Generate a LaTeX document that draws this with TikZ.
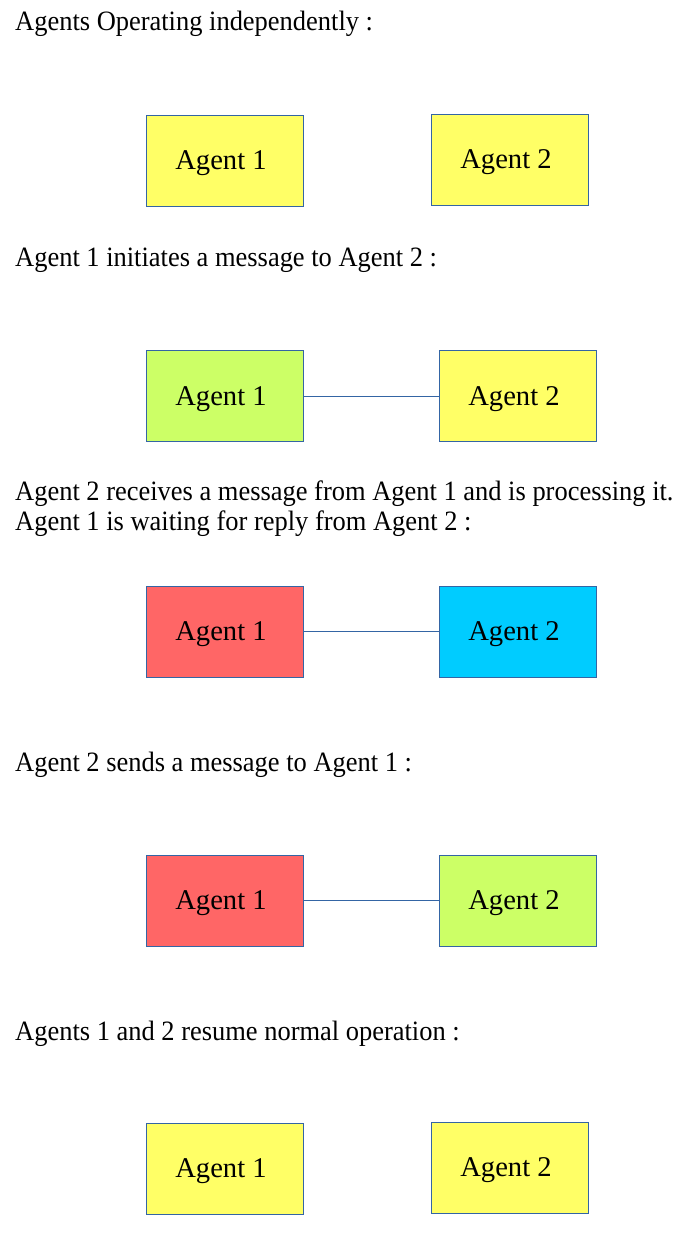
\documentclass[tikz,border=0pt]{standalone}
\usepackage{fontspec}
\setmainfont{Liberation Serif}
\newfontfamily\captionfont[FakeStretch=0.945]{Liberation Serif}
\usepackage{tikz}
\definecolor{agentyellow}{HTML}{FFFF66}
\definecolor{agentgreen}{HTML}{CCFF66}
\definecolor{agentred}{HTML}{FF6666}
\definecolor{agentcyan}{HTML}{00CCFF}
\definecolor{agentborder}{HTML}{3465A4}

\begin{document}
\begin{tikzpicture}
    [x=1pt, y=-1pt,
      agent/.style={draw=agentborder, line width=0.8pt, minimum width=157pt,
        minimum height=91pt, inner sep=0pt, text height=18pt, text depth=0pt,
        font=\fontsize{28.6}{32}\selectfont, execute at begin node={\hspace*{-7pt}}},
      caption/.style={anchor=base west, inner sep=0pt, align=left,
        font=\captionfont\fontsize{28}{29.5}\selectfont},
      link/.style={draw=agentborder, line width=0.8pt}]
    \useasboundingbox (0,0) rectangle (694,1257);
    % agents operating independently
    \node[caption] (t1) at (15,31) {Agents Operating independently :};
    \node[agent, fill=agentyellow] (a11) at (224.5,160.5) {Agent 1};
    \node[agent, fill=agentyellow] (a12) at (509.5,160) {Agent 2};
    % agent 1 -> agent 2
    \node[caption] (t2) at (15,266) {Agent 1 initiates a message to Agent 2 :};
    \node[agent, fill=agentgreen] (a21) at (224.5,396) {Agent 1};
    \node[agent, fill=agentyellow] (a22) at (517.5,396) {Agent 2};
    \draw[link] (a21) -- (a22);
    % agent 2 processing, agent 1 waiting
    \node[caption] (t3) at (15,530) {Agent 2 receives a message from Agent 1 and is processing it.\\
      Agent 1 is waiting for reply from Agent 2 :};
    \node[agent, fill=agentred] (a31) at (224.5,631.5) {Agent 1};
    \node[agent, fill=agentcyan] (a32) at (517.5,631.5) {Agent 2};
    \draw[link] (a31) -- (a32);
    % agent 2 -> agent 1
    \node[caption] (t4) at (15,771) {Agent 2 sends a message to Agent 1 :};
    \node[agent, fill=agentred] (a41) at (224.5,900.5) {Agent 1};
    \node[agent, fill=agentgreen] (a42) at (517.5,900.5) {Agent 2};
    \draw[link] (a41) -- (a42);
    % back to normal
    \node[caption] (t5) at (15,1040) {Agents 1 and 2 resume normal operation :};
    \node[agent, fill=agentyellow] (a51) at (224.5,1168.5) {Agent 1};
    \node[agent, fill=agentyellow] (a52) at (509.5,1167.5) {Agent 2};
  \end{tikzpicture}
\end{document}
